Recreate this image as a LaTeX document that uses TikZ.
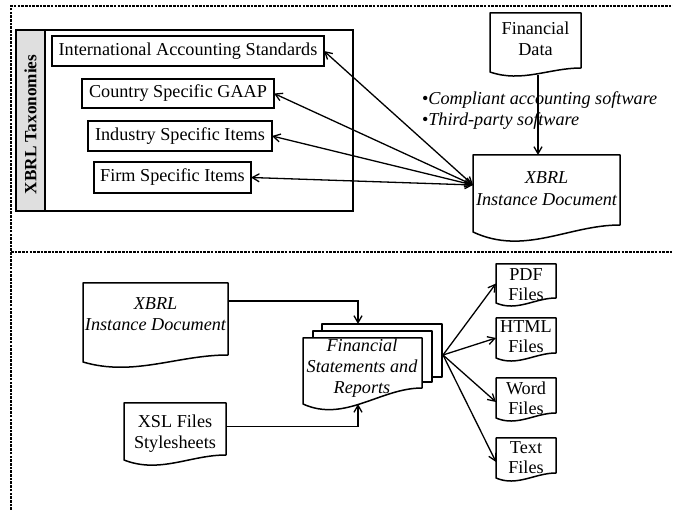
\documentclass[tikz,border=0pt]{standalone}
\usepackage{fontspec}
\setmainfont{Liberation Serif}
\usetikzlibrary{calc,arrows.meta}

\tikzset{
  every node/.style={font=\fontsize{18.2}{21.5}\selectfont, inner sep=0pt, outer sep=0pt},
  frameline/.style={line width=1.1pt, dash pattern=on 2.6pt off 1.1pt},
  taxbox/.style={draw, line width=1.5pt, fill=white},
  docarea/.style={inner sep=0pt, outer sep=0pt},
  docline/.style={draw, line width=1.5pt, fill=white, line join=round},
  doctext/.style={align=center},
  barb/.tip={Straight Barb[length=7pt,width=8pt]},
  link/.style={line width=1.3pt, -barb},
  dlink/.style={line width=1.3pt, barb-barb},
}

% document symbol: flat top, wavy bottom edge
\newcommand{\docshape}[3]{%
  \path[docline] (#1.south west) -- (#1.north west) -- (#1.north east)
    -- ($(#1.south east)+(0,-#2)$)
    .. controls ($(#1.south west)!0.65!(#1.south east)+(0,-#2)$)
       and ($(#1.south west)!0.35!(#1.south east)+(0,#3)$) .. (#1.south west) -- cycle;}

\begin{document}
\begin{tikzpicture}[x=1pt,y=-1pt]
\useasboundingbox (0,0) rectangle (673,510);

% dashed frame and divider
\draw[frameline] (11,510) -- (11,6) -- (673,6);
\draw[frameline] (11,252) -- (673,252);

% ---------- taxonomies ----------
\node[draw, line width=2pt, minimum width=337pt, minimum height=181pt] (taxframe) at (184.5,120.5) {};
\node[draw, line width=1.5pt, fill=gray!25, minimum width=29pt, minimum height=181pt] (taxstrip) at (30.5,120.5) {};
\node[rotate=90, font=\fontsize{17.2}{20}\selectfont\bfseries] (taxlabel) at (30.5,124.5) {XBRL Taxonomies};

\node[taxbox, minimum width=272pt, minimum height=30pt] (ias) at (188,51) {International Accounting Standards};
\node[taxbox, minimum width=192pt, minimum height=29pt] (csg) at (178,93.5) {Country Specific GAAP};
\node[taxbox, minimum width=184pt, minimum height=30pt] (isi) at (180,136) {Industry Specific Items};
\node[taxbox, minimum width=157pt, minimum height=31pt] (fsi) at (172.5,177.5) {Firm Specific Items};

% ---------- financial data -> instance ----------
\path node[docarea, minimum width=91pt, minimum height=59pt] (fdbox) at (535.5,42.5) {};
\path node[docarea, minimum width=147pt, minimum height=77pt] (inst1box) at (546.5,193.5) {};

\coordinate (fdout) at (538,75);
\draw[link] (fdout) -- (fdout |- inst1box.north);

\docshape{fdbox}{4}{11}
\node[doctext] (fd) at (535.5,39) {Financial\\Data};
\docshape{inst1box}{7}{24}
\node[doctext, font=\fontsize{18.2}{21.5}\selectfont\itshape] (inst1) at (546.5,188.5) {XBRL\\Instance Document};

\node[anchor=west] (tool1) at (422,100) {\textbullet\textit{Compliant accounting software}};
\node[anchor=west] (tool2) at (422,121) {\textbullet\textit{Third-party software}};

\coordinate (hub) at (473,185);
\draw[dlink] (hub) -- (ias.east);
\draw[dlink] (hub) -- (csg.east);
\draw[dlink] (hub) -- (isi.east);
\draw[dlink] (hub) -- (fsi.east);

% ---------- rendering ----------
\path node[docarea, minimum width=145pt, minimum height=79pt] (inst2box) at (155.5,322.5) {};
\path node[docarea, minimum width=102pt, minimum height=57pt] (xslbox) at (175,431.5) {};
\path node[docarea, minimum width=120pt, minimum height=53pt] (fsback) at (382,350.5) {};
\path node[docarea, minimum width=119pt, minimum height=51pt] (fsmid) at (372.5,356.5) {};
\path node[docarea, minimum width=119pt, minimum height=66pt] (fsbox) at (362.5,371) {};

\docshape{inst2box}{7}{15}
\node[doctext, font=\fontsize{18.2}{21.5}\selectfont\itshape] (inst2) at (155.5,314) {XBRL\\Instance Document};
\docshape{xslbox}{5}{14}
\node[doctext] (xsl) at (175,433.5) {XSL Files\\Stylesheets};

\coordinate (inst2out) at ($(inst2box.north east)+(0,18)$);
\coordinate (xslout) at ($(xslbox.east)+(0,-5)$);
\coordinate (fsin) at (358,324);
\coordinate (fsbot) at (358,404);
\draw[link] (inst2out) -| (fsin);
\draw[link] (xslout) -| (fsbot);

\draw[docline] (fsback.south west) rectangle (fsback.north east);
\draw[docline] (fsmid.south west) rectangle (fsmid.north east);
\docshape{fsbox}{16}{19}
\node[doctext, font=\fontsize{18.2}{21}\selectfont\itshape] (fs) at (362,368) {Financial\\Statements and\\Reports};

% output formats
\path node[docarea, minimum width=60pt, minimum height=39pt] (pdfbox) at (526,283.5) {};
\path node[docarea, minimum width=60pt, minimum height=40pt] (htmlbox) at (526,338) {};
\path node[docarea, minimum width=60pt, minimum height=40pt] (wordbox) at (526,398) {};
\path node[docarea, minimum width=60pt, minimum height=40pt] (textbox) at (526,458) {};

\coordinate (fan) at (443,355);
\draw[link] (fan) -- (pdfbox.west);
\draw[link] (fan) -- (htmlbox.west);
\draw[link] (fan) -- ($(wordbox.west)+(0,4)$);
\draw[link] (fan) -- ($(textbox.west)+(0,4)$);

\docshape{pdfbox}{5}{9}
\node[doctext, font=\fontsize{18.2}{20}\selectfont] (pdf) at (526,285) {PDF\\Files};
\docshape{htmlbox}{5}{9}
\node[doctext, font=\fontsize{18.2}{20}\selectfont] (html) at (526,337) {HTML\\Files};
\docshape{wordbox}{5}{9}
\node[doctext, font=\fontsize{18.2}{20}\selectfont] (word) at (526,398) {Word\\Files};
\docshape{textbox}{5}{9}
\node[doctext, font=\fontsize{18.2}{20}\selectfont] (text) at (526,458) {Text\\Files};

\end{tikzpicture}
\end{document}
